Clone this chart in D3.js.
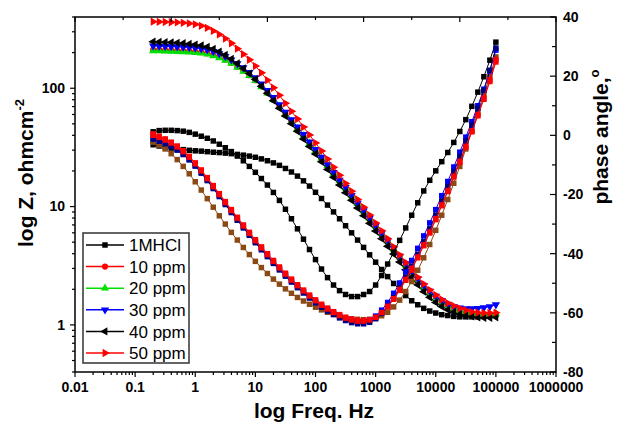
<!DOCTYPE html>
<html>
<head>
<meta charset="utf-8">
<script src="https://cdn.jsdelivr.net/npm/d3@7"></script>
<style>
  body { margin: 0; background: #fff; }
  svg { display: block; font-family: Arial, "Liberation Sans", sans-serif; }
</style>
</head>
<body>
<svg id="chart" width="623" height="422"></svg>
<script>
// frequencies (Hz), low to high
const freq = [0.1995, 0.2512, 0.3162, 0.3981, 0.5012, 0.631, 0.7943,
  1, 1.259, 1.585, 1.995, 2.512, 3.162, 3.981, 5.012, 6.31, 7.943,
  10, 12.59, 15.85, 19.95, 25.12, 31.62, 39.81, 50.12, 63.1, 79.43,
  100, 125.9, 158.5, 199.5, 251.2, 316.2, 398.1, 501.2, 631, 794.3,
  1000, 1259, 1585, 1995, 2512, 3162, 3981, 5012, 6310, 7943,
  10000, 12590, 15850, 19950, 25120, 31620, 39810, 50120, 63100, 79430, 100000];

// impedance |Z| (left axis)
const zBlank = [33.3, 32.5, 31.8, 31.2, 30.7, 30.3, 29.9, 29.6, 29.4, 29.1,
  28.8, 28.6, 28.3, 28.0, 27.6, 27.2, 26.7, 26.1, 25.3, 24.4,
  23.4, 22.3, 21.0, 19.6, 18.1, 16.5, 14.9, 13.2, 11.7, 10.3,
  9.02, 7.89, 6.89, 6.00, 5.21, 4.52, 3.91, 3.39, 2.94, 2.56,
  2.24, 1.98, 1.77, 1.60, 1.48, 1.38, 1.31, 1.26, 1.22, 1.20,
  1.18, 1.17, 1.17, 1.17, 1.17, 1.18, 1.20, 1.22];
const z10 = [211, 211, 210, 209, 208, 207, 206, 204, 202, 198,
  192, 184, 175, 164, 152, 141, 129, 117, 104, 91.8,
  80.4, 70.0, 60.5, 52.5, 45.7, 39.5, 34.3, 29.7, 25.6, 22.1,
  19.0, 16.4, 14.2, 12.2, 10.5, 9.08, 7.82, 6.76, 5.82, 5.01,
  4.31, 3.69, 3.16, 2.71, 2.35, 2.05, 1.83, 1.65, 1.52, 1.43,
  1.36, 1.30, 1.26, 1.23, 1.21, 1.20, 1.21, 1.23];
const z20 = [207, 207, 206, 205, 204, 203, 202, 200, 198, 194,
  188, 181, 172, 162, 150, 139, 128, 116, 103, 91.0,
  79.8, 69.6, 60.2, 52.2, 45.5, 39.4, 34.2, 29.7, 25.7, 22.2,
  19.1, 16.5, 14.3, 12.3, 10.6, 9.15, 7.90, 6.83, 5.90, 5.08,
  4.37, 3.75, 3.21, 2.76, 2.39, 2.09, 1.86, 1.68, 1.55, 1.45,
  1.38, 1.32, 1.28, 1.25, 1.23, 1.22, 1.22, 1.24];
const z30 = [228, 227, 226, 225, 224, 223, 221, 219, 216, 212,
  205, 196, 186, 174, 161, 149, 136, 123, 109, 96.0,
  83.8, 72.8, 62.8, 54.3, 47.1, 40.7, 35.2, 30.4, 26.2, 22.6,
  19.4, 16.7, 14.5, 12.4, 10.7, 9.25, 7.97, 6.90, 5.95, 5.14,
  4.43, 3.81, 3.28, 2.83, 2.46, 2.16, 1.93, 1.75, 1.61, 1.50,
  1.43, 1.39, 1.37, 1.37, 1.38, 1.40, 1.43, 1.48];
const z40 = [247, 246, 245, 244, 242, 240, 237, 234, 230, 224,
  215, 204, 191, 177, 162, 147, 133, 119, 104, 90.5,
  78.5, 67.8, 58.3, 50.2, 43.3, 37.2, 32.2, 27.8, 23.9, 20.6,
  17.7, 15.2, 13.1, 11.3, 9.72, 8.38, 7.22, 6.22, 5.36, 4.62,
  3.97, 3.40, 2.92, 2.51, 2.18, 1.91, 1.71, 1.55, 1.43, 1.34,
  1.28, 1.23, 1.20, 1.18, 1.16, 1.15, 1.15, 1.16];
const z50 = [365, 364, 363, 361, 360, 357, 353, 347, 337, 324,
  305, 285, 263, 240, 216, 194, 174, 154, 135, 117,
  101, 87.1, 74.5, 63.8, 55.0, 47.0, 40.3, 34.5, 29.5, 25.2,
  21.5, 18.4, 15.7, 13.5, 11.5, 9.89, 8.47, 7.28, 6.24, 5.35,
  4.57, 3.91, 3.37, 2.90, 2.53, 2.22, 1.98, 1.79, 1.64, 1.53,
  1.45, 1.38, 1.33, 1.29, 1.27, 1.26, 1.26, 1.27];

// phase angle (right axis)
const phBlank = [1.2, 1.6, 1.7, 1.7, 1.6, 1.4, 1.0, 0.4, -0.3, -1.0,
  -1.9, -3.0, -4.2, -5.5, -7.0, -8.6, -10.5, -12.5, -14.6, -16.8,
  -19.3, -22.0, -25.0, -28.2, -31.6, -35.1, -38.6, -42.0, -45.2, -48.1,
  -50.6, -52.5, -53.8, -54.5, -54.5, -53.8, -52.8, -50.6, -47.4, -43.5,
  -39.5, -35.5, -31.3, -27.0, -22.8, -18.8, -15.2, -12.0, -8.9, -5.8,
  -2.4, 1.3, 5.3, 9.8, 14.6, 19.8, 25.4, 31.5];
const ph10 = [0.5, -0.3, -1.2, -2.3, -3.6, -5.2, -7.1, -9.3, -11.7, -14.3,
  -17.0, -19.7, -22.4, -25.1, -27.7, -30.3, -32.8, -35.3, -37.7, -40.0,
  -42.3, -44.5, -46.6, -48.6, -50.5, -52.3, -54.0, -55.6, -57.1, -58.4,
  -59.6, -60.6, -61.5, -62.1, -62.5, -62.6, -62.3, -61.5, -60.0, -58.0,
  -55.4, -52.4, -49.0, -45.3, -41.4, -37.3, -33.0, -28.5, -23.8, -19.0,
  -14.1, -9.1, -4.0, 1.2, 6.6, 12.2, 18.2, 24.8];
const ph20 = [-2.3, -3.3, -4.6, -6.2, -8.2, -10.5, -13.0, -15.7, -18.5, -21.4,
  -24.3, -27.2, -30.0, -32.8, -35.4, -37.9, -40.3, -42.6, -44.7, -46.7,
  -48.6, -50.3, -51.9, -53.4, -54.8, -56.0, -57.1, -58.1, -59.0, -59.8,
  -60.5, -61.1, -61.6, -62.0, -62.2, -62.3, -62.2, -61.8, -61.0, -59.8,
  -58.0, -55.7, -52.8, -49.4, -45.6, -41.4, -36.9, -32.1, -27.0, -21.7,
  -16.2, -10.5, -4.6, 1.4, 7.6, 13.8, 20.1, 26.5];
const ph30 = [-0.8, -1.6, -2.5, -3.5, -4.8, -6.3, -8.1, -10.2, -12.5, -15.0,
  -17.6, -20.3, -23.0, -25.7, -28.3, -30.9, -33.4, -35.9, -38.3, -40.6,
  -42.9, -45.1, -47.2, -49.2, -51.1, -52.9, -54.6, -56.2, -57.6, -58.9,
  -60.1, -61.1, -62.0, -62.6, -63.0, -63.0, -62.4, -61.1, -59.1, -56.5,
  -53.4, -49.9, -46.2, -42.3, -38.2, -34.0, -29.6, -25.1, -20.4, -15.6,
  -10.7, -5.7, -0.6, 4.6, 10.0, 15.6, 21.7, 28.8];
const ph40 = [-1.3, -2.0, -2.8, -3.8, -5.0, -6.5, -8.3, -10.4, -12.8, -15.3,
  -18.0, -20.7, -23.4, -26.1, -28.7, -31.3, -33.8, -36.3, -38.7, -41.0,
  -43.3, -45.5, -47.6, -49.6, -51.5, -53.3, -55.0, -56.6, -58.1, -59.4,
  -60.6, -61.7, -62.6, -63.3, -63.7, -63.7, -63.2, -62.0, -60.2, -57.8,
  -54.9, -51.6, -48.0, -44.2, -40.2, -36.0, -31.6, -27.0, -22.2, -17.3,
  -12.3, -7.2, -2.0, 3.4, 9.1, 15.2, 22.0, 29.5];
const ph50 = [0.0, -0.7, -1.6, -2.6, -3.9, -5.5, -7.4, -9.6, -12.0, -14.6,
  -17.3, -20.0, -22.7, -25.4, -28.0, -30.6, -33.1, -35.6, -38.0, -40.3,
  -42.6, -44.8, -46.9, -48.9, -50.8, -52.6, -54.3, -55.9, -57.4, -58.7,
  -59.9, -60.9, -61.8, -62.4, -62.8, -62.8, -62.4, -61.5, -59.9, -57.8,
  -55.2, -52.1, -48.7, -45.0, -41.1, -37.0, -32.7, -28.2, -23.5, -18.7,
  -13.8, -8.8, -3.7, 1.5, 6.9, 12.6, 18.8, 25.6];

const legendNames = ['1MHCl', '10 ppm', '20 ppm', '30 ppm', '40 ppm', '50 ppm'];
const xTicks = [0.01, 0.1, 1, 10, 100, 1000, 10000, 100000, 1000000];
const zTicks = [1, 10, 100];
const phaseTicks = [-80, -60, -40, -20, 0, 20, 40];

// marker shapes (rotation of d3 triangle for the pointing direction)
const shapes = {
  square: { type: d3.symbolSquare, size: 30, rot: 0 },
  circle: { type: d3.symbolCircle, size: 30, rot: 0 },
  up:     { type: d3.symbolTriangle, size: 30, rot: 0 },
  down:   { type: d3.symbolTriangle, size: 30, rot: 180 },
  left:   { type: d3.symbolTriangle, size: 30, rot: -90 },
  right:  { type: d3.symbolTriangle, size: 30, rot: 90 }
};

const zSeries = [
  { values: zBlank, color: '#000000', shape: 'square' },
  { values: z10, color: '#ff0000', shape: 'circle' },
  { values: z20, color: '#00e000', shape: 'up' },
  { values: z30, color: '#0000ff', shape: 'down' },
  { values: z40, color: '#000000', shape: 'left' },
  { values: z50, color: '#ff0000', shape: 'right' }
];
const phaseSeries = [
  { values: phBlank, color: '#000000', shape: 'square' },
  { values: ph20, color: '#8b4a14', shape: 'square' },
  { values: ph10, color: '#ff0000', shape: 'square' },
  { values: ph30, color: '#0000ff', shape: 'square' },
  { values: ph40, color: '#000080', shape: 'square' },
  { values: ph50, color: '#ff0000', shape: 'square' }
];

const svg = d3.select('#chart');
const plotL = 75, plotR = 556, plotT = 17, plotB = 372;

const x = d3.scaleLog().domain([0.01, 1000000]).range([plotL, plotR]);
const yZ = d3.scaleLog().domain([0.4, 400]).range([plotB, plotT]);
const yP = d3.scaleLinear().domain([-80, 40]).range([plotB, plotT]);

function drawSeries(s, yScale) {
  const g = svg.append('g');
  const pts = freq.map((f, i) => [x(f), yScale(s.values[i])]);
  g.append('path')
    .attr('d', d3.line()(pts))
    .attr('fill', 'none')
    .attr('stroke', s.color)
    .attr('stroke-width', 1);
  const sh = shapes[s.shape];
  const sym = d3.symbol().type(sh.type).size(sh.size);
  g.selectAll('path.m').data(pts).enter()
    .append('path')
    .attr('class', 'm')
    .attr('d', sym)
    .attr('transform', d => 'translate(' + d[0] + ',' + d[1] + ') rotate(' + sh.rot + ')')
    .attr('fill', s.color);
}

zSeries.forEach(s => drawSeries(s, yZ));
phaseSeries.forEach(s => drawSeries(s, yP));

// frame
const axisColor = '#000';
svg.append('rect')
  .attr('x', plotL).attr('y', plotT)
  .attr('width', plotR - plotL).attr('height', plotB - plotT)
  .attr('fill', 'none').attr('stroke', axisColor).attr('stroke-width', 1.5);

const ticks = svg.append('g').attr('stroke', axisColor).attr('stroke-width', 1.2);

// bottom axis: decades + minor ticks, pointing out
for (let k = -2; k <= 6; k++) {
  const v = Math.pow(10, k);
  ticks.append('line').attr('x1', x(v)).attr('x2', x(v)).attr('y1', plotB).attr('y2', plotB + 5);
  if (k < 6) {
    for (let m = 2; m <= 9; m++) {
      const xm = x(m * v);
      ticks.append('line').attr('x1', xm).attr('x2', xm).attr('y1', plotB).attr('y2', plotB + 3);
    }
  }
}
svg.append('g').selectAll('text').data(xTicks).enter()
  .append('text')
  .attr('x', d => x(d)).attr('y', 392)
  .attr('text-anchor', 'middle')
  .attr('font-size', 14).attr('font-weight', 'bold')
  .text(d => String(d));

// top axis: plain evenly spaced ticks, pointing in
const xTop = d3.scaleLinear().domain([0, 10]).range([plotL, plotR]);
d3.range(0, 11).forEach(i => {
  ticks.append('line').attr('x1', xTop(i)).attr('x2', xTop(i))
    .attr('y1', plotT).attr('y2', plotT + (i % 2 === 0 ? 5 : 3));
});

// left axis (log Z)
[0.4, 0.5, 0.6, 0.7, 0.8, 0.9, 2, 3, 4, 5, 6, 7, 8, 9,
  20, 30, 40, 50, 60, 70, 80, 90, 200, 300, 400].forEach(v => {
  ticks.append('line').attr('x1', plotL - 3).attr('x2', plotL).attr('y1', yZ(v)).attr('y2', yZ(v));
});
zTicks.forEach(v => {
  ticks.append('line').attr('x1', plotL - 5).attr('x2', plotL).attr('y1', yZ(v)).attr('y2', yZ(v));
});
svg.append('g').selectAll('text').data(zTicks).enter()
  .append('text')
  .attr('x', 65).attr('y', d => yZ(d)).attr('dy', '0.35em')
  .attr('text-anchor', 'end')
  .attr('font-size', 14).attr('font-weight', 'bold')
  .text(d => String(d));

// right axis (phase), ticks pointing in
d3.range(-80, 41, 10).forEach(v => {
  const major = v % 20 === 0;
  ticks.append('line').attr('x1', plotR - (major ? 6 : 4)).attr('x2', plotR)
    .attr('y1', yP(v)).attr('y2', yP(v));
});
svg.append('g').selectAll('text').data(phaseTicks).enter()
  .append('text')
  .attr('x', 563).attr('y', d => yP(d)).attr('dy', '0.35em')
  .attr('font-size', 14).attr('font-weight', 'bold')
  .text(d => String(d));

// axis titles
const lt = svg.append('text')
  .attr('transform', 'translate(33,173) rotate(-90)')
  .attr('text-anchor', 'middle')
  .attr('font-size', 21).attr('font-weight', 'bold');
lt.append('tspan').text('log Z, ohmcm');
lt.append('tspan').attr('dy', -9).attr('font-size', 13).text('-2');

const rt = svg.append('text')
  .attr('transform', 'translate(608,137) rotate(-90)')
  .attr('text-anchor', 'middle')
  .attr('font-size', 21).attr('font-weight', 'bold');
rt.append('tspan').text('phase angle,');
rt.append('tspan').attr('dy', -9).attr('font-size', 13).text('o');

svg.append('text')
  .attr('x', 314).attr('y', 418)
  .attr('text-anchor', 'middle')
  .attr('font-size', 21).attr('font-weight', 'bold')
  .text('log Freq. Hz');

// legend
const lg = svg.append('g');
lg.append('rect')
  .attr('x', 83).attr('y', 233).attr('width', 106).attr('height', 130)
  .attr('fill', '#fff').attr('stroke', '#333').attr('stroke-width', 1.5);
zSeries.forEach((s, i) => {
  const yy = 245 + i * 21.6;
  lg.append('line').attr('x1', 86).attr('x2', 124).attr('y1', yy).attr('y2', yy)
    .attr('stroke', s.color).attr('stroke-width', 1.5);
  const sh = shapes[s.shape];
  lg.append('path')
    .attr('d', d3.symbol().type(sh.type).size(sh.size)())
    .attr('transform', 'translate(105,' + yy + ') rotate(' + sh.rot + ')')
    .attr('fill', s.color);
  lg.append('text')
    .attr('x', 129).attr('y', yy).attr('dy', '0.36em')
    .attr('font-size', 17)
    .text(legendNames[i]);
});
</script>
</body>
</html>
